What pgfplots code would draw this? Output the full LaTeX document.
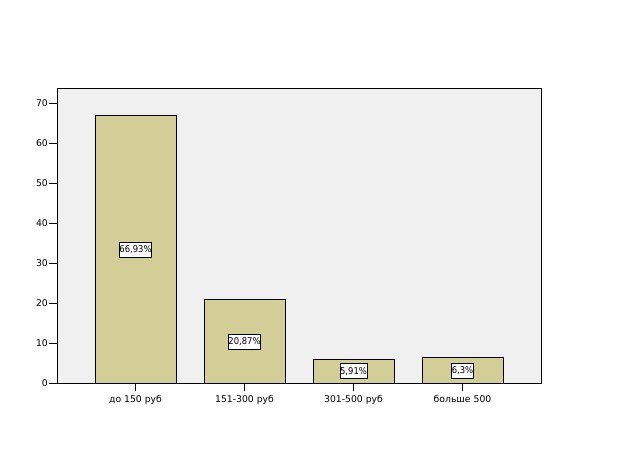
\documentclass[border=0pt]{standalone}
\usepackage{pgfplots}
\pgfplotsset{compat=1.18}
\usepackage{fontspec}
\setmainfont{DejaVu Sans}
\newfontfamily\condfont{DejaVu Sans Condensed}
\definecolor{barfill}{RGB}{211,206,152}
\definecolor{bgray}{RGB}{240,240,240}
\begin{document}
\begin{tikzpicture}
\path[use as bounding box, fill=white] (0,0) rectangle (625bp,454bp);
\begin{axis}[
  at={(57bp,71bp)}, anchor=south west,
  scale only axis, width=484bp, height=295bp,
  xmin=-0.72, xmax=3.72, ymin=0, ymax=73.75,
  axis background/.style={fill=bgray},
  axis line style={black, line width=0.8pt},
  xtick={0,1,2,3},
  xticklabels={до 150 руб,151-300 руб,301-500 руб,больше 500},
  ytick={0,10,20,30,40,50,60,70},
  tick align=outside, tick pos=left,
  major tick length=8bp,
  tick style={black, line width=0.8pt},
  ticklabel style={font=\fontsize{9.3}{11}\selectfont},
  yticklabel style={inner sep=1pt},
  /pgf/number format/assume math mode=true,
  xticklabel style={inner sep=1pt, yshift=-3bp},
]
\addplot[ybar, bar width=0.743, bar shift=0pt, fill=barfill, draw=black, line width=0.8pt]
  coordinates {(0,66.93) (1,20.87) (2,5.91) (3,6.3)};
\addplot[draw=none, mark=none, point meta=explicit symbolic,
  nodes near coords,
  every node near coord/.style={anchor=center, fill=white, draw=black, line width=0.7pt,
    inner xsep=0pt, inner ysep=0pt, minimum height=15bp, font=\condfont\fontsize{9.4}{10}\selectfont}]
  coordinates {(0,33.25)[66,93\%] (1,10.3)[20,87\%] (2,2.95)[5,91\%] (3,3.1)[6,3\%]};
\end{axis}
\end{tikzpicture}
\end{document}
